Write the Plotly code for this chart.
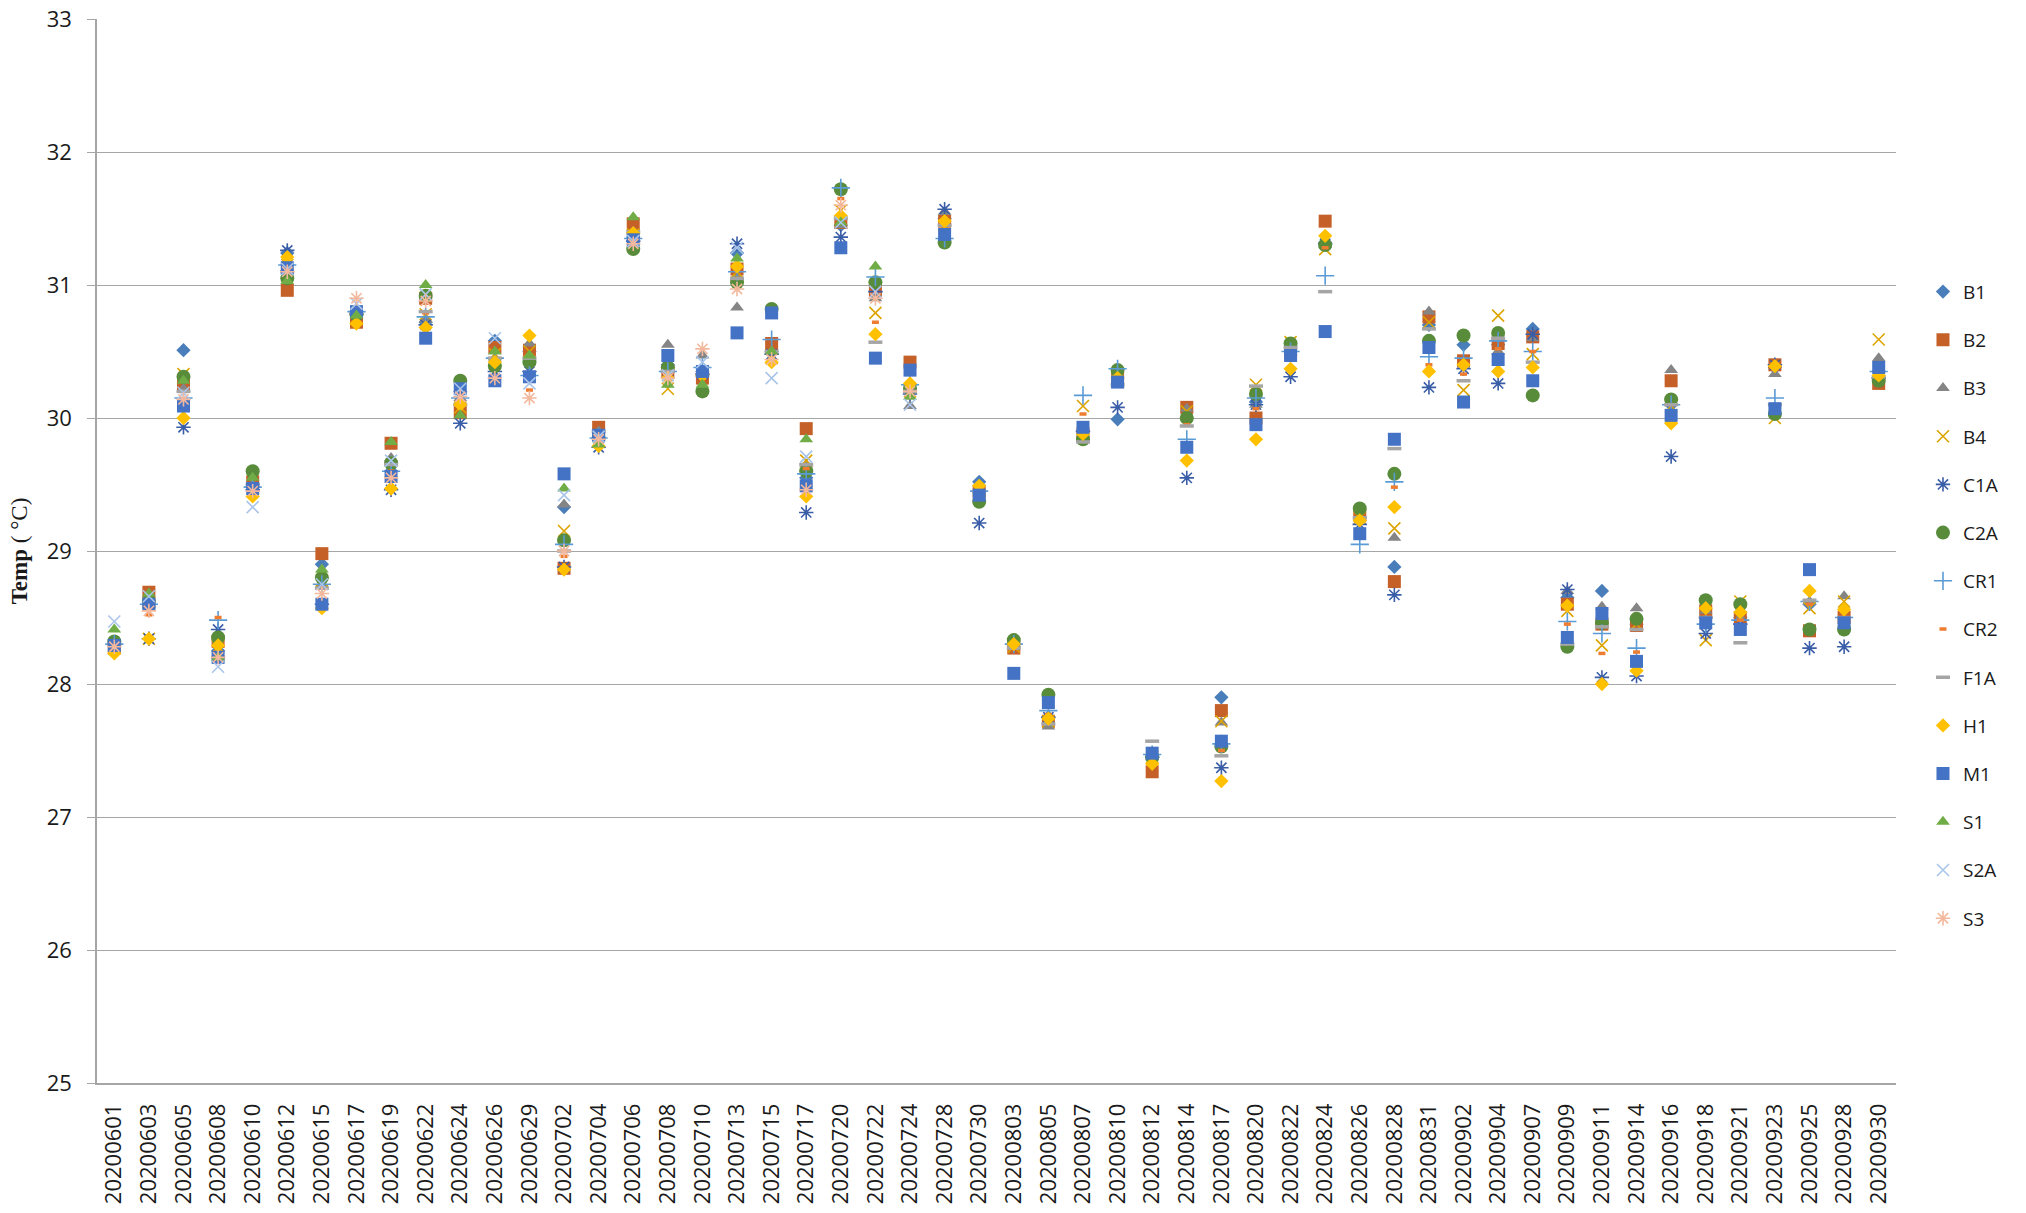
import plotly.graph_objects as go

dates = ["20200601", "20200603", "20200605", "20200608", "20200610", "20200612", "20200615",
         "20200617", "20200619", "20200622", "20200624", "20200626", "20200629", "20200702",
         "20200704", "20200706", "20200708", "20200710", "20200713", "20200715", "20200717",
         "20200720", "20200722", "20200724", "20200728", "20200730", "20200803", "20200805",
         "20200807", "20200810", "20200812", "20200814", "20200817", "20200820", "20200822",
         "20200824", "20200826", "20200828", "20200831", "20200902", "20200904", "20200907",
         "20200909", "20200911", "20200914", "20200916", "20200918", "20200921", "20200923",
         "20200925", "20200928", "20200930"]

N = None
# 52 values per site, one per date (None = no reading)
B1 = [28.30, 28.62, 30.51, 28.25, 29.50, 31.24, 28.90, 30.80, 29.60, 30.72, 30.20, 30.58, 30.50,
      29.33, 29.85, 31.36, 30.40, 30.35, 31.24, 30.50, 29.55, 31.45, 30.95, 30.25, 31.50, 29.52,
      28.30, 27.75, 29.90, 29.99, 27.45, 30.00, 27.90, 30.12, 30.50, 31.32, 29.25, 28.88, 30.70,
      30.55, 30.55, 30.67, 28.65, 28.70, 28.45, 30.10, 28.50, 28.50, 30.38, 28.60, 28.50, 30.35]
B2 = [28.27, 28.69, 30.25, 28.32, 29.52, 30.96, 28.98, 30.72, 29.81, 30.90, 30.04, 30.53, 30.51,
      28.87, 29.93, 31.46, 30.35, 30.30, 31.12, 30.56, 29.92, 31.47, 30.96, 30.42, 31.48, 29.45,
      28.27, 27.72, 29.88, 30.30, 27.34, 30.08, 27.80, 30.00, 30.50, 31.48, 29.27, 28.77, 30.76,
      30.43, 30.56, 30.61, 28.60, 28.45, 28.44, 30.28, 28.55, 28.50, 30.40, 28.40, 28.50, 30.26]
B3 = [28.30, 28.64, 30.22, 28.22, 29.50, 31.10, 28.75, 30.78, 29.70, 30.74, 30.15, 30.45, 30.56,
      29.35, 29.90, 31.40, 30.55, 30.47, 30.83, 30.50, 29.65, 31.45, 30.90, 30.09, 31.55, 29.45,
      28.30, 27.68, 29.85, 30.25, 27.45, 30.07, 27.71, 30.10, 30.50, 31.30, 29.25, 29.10, 30.80,
      30.40, 30.50, 30.60, 28.70, 28.58, 28.57, 30.36, 28.55, 28.50, 30.33, 28.62, 28.66, 30.45]
B4 = [28.28, 28.34, 30.33, 28.28, 29.45, 31.15, 28.78, 30.75, 29.60, 30.78, 30.08, 30.48, 30.50,
      29.15, 29.82, 31.38, 30.22, 30.35, 31.10, 30.45, 29.68, 31.56, 30.79, 30.20, 31.45, 29.45,
      28.28, 27.72, 30.09, 30.28, 27.45, 30.05, 27.72, 30.25, 30.57, 31.27, 29.25, 29.17, 30.72,
      30.21, 30.77, 30.48, 28.55, 28.29, 28.45, 30.09, 28.33, 28.62, 30.00, 28.57, 28.62, 30.59]
C1A = [28.30, 28.34, 29.93, 28.41, 29.46, 31.26, 28.60, 30.78, 29.46, 30.70, 29.96, 30.35, 30.35,
       28.88, 29.78, 31.33, 30.35, 30.33, 31.31, 30.48, 29.29, 31.36, 30.95, 30.18, 31.57, 29.21,
       28.30, 27.75, 29.90, 30.08, 27.45, 29.55, 27.37, 30.10, 30.31, 31.31, 29.20, 28.67, 30.23,
       30.37, 30.26, 30.63, 28.71, 28.05, 28.06, 29.71, 28.38, 28.45, 30.40, 28.27, 28.28, 30.30]
C2A = [28.32, 28.62, 30.31, 28.35, 29.60, 31.05, 28.80, 30.78, 29.66, 30.92, 30.28, 30.39, 30.42,
       29.08, 29.85, 31.27, 30.38, 30.20, 31.02, 30.82, 29.60, 31.72, 31.02, 30.22, 31.32, 29.37,
       28.33, 27.92, 29.84, 30.36, 27.45, 30.00, 27.53, 30.18, 30.56, 31.30, 29.32, 29.58, 30.58,
       30.62, 30.64, 30.17, 28.28, 28.46, 28.49, 30.14, 28.63, 28.60, 30.03, 28.41, 28.41, 30.28]
CR1 = [28.30, 28.60, 30.15, 28.48, 29.48, 31.15, 28.75, 30.80, 29.60, 30.76, 30.15, 30.45, 30.32,
       29.05, 29.85, 31.35, 30.35, 30.38, 31.10, 30.59, 29.58, 31.73, 31.06, 30.25, 31.35, 29.45,
       28.30, 27.80, 30.17, 30.37, 27.47, 29.84, 27.55, 30.15, 30.50, 31.07, 29.05, 29.52, 30.46,
       30.45, 30.58, 30.50, 28.47, 28.38, 28.27, 30.10, 28.45, 28.48, 30.15, 28.62, 28.50, 30.35]
CR2 = [28.28, 28.52, 30.20, 28.50, 29.50, 31.10, 28.72, 30.80, 29.60, 30.79, 30.10, 30.45, 30.21,
       28.96, 29.85, 31.40, 30.32, 30.30, 31.05, 30.50, 29.62, 31.65, 30.72, 30.20, 31.45, 29.45,
       28.27, 27.77, 30.03, 30.30, 27.45, 29.95, 27.50, 30.07, 30.50, 31.28, 29.25, 29.48, 30.40,
       30.33, 30.52, 30.50, 28.45, 28.23, 28.24, 30.10, 28.50, 28.48, 30.10, 28.60, 28.50, 30.30]
F1A = [28.30, 28.58, 30.20, 28.20, 29.50, 31.10, 28.72, 30.78, 29.65, 30.80, 30.10, 30.45, 30.45,
       29.00, 29.90, 31.40, 30.35, 30.32, 31.05, 30.50, 29.65, 31.50, 30.57, 30.20, 31.45, 29.45,
       28.27, 27.70, 29.82, 30.25, 27.57, 29.94, 27.46, 30.24, 30.53, 30.95, 29.25, 29.77, 30.67,
       30.28, 30.60, 30.42, 28.30, 28.43, 28.41, 30.10, 28.50, 28.31, 30.10, 28.63, 28.50, 30.31]
H1 = [28.23, 28.34, 30.00, 28.29, 29.41, 31.21, 28.57, 30.71, 29.47, 30.68, 30.10, 30.42, 30.62,
      28.86, 29.79, 31.39, 30.30, 30.32, 31.14, 30.42, 29.41, 31.52, 30.63, 30.26, 31.48, 29.49,
      28.30, 27.74, 29.88, 30.30, 27.40, 29.68, 27.27, 29.84, 30.37, 31.37, 29.23, 29.33, 30.35,
      30.40, 30.35, 30.38, 28.59, 28.00, 28.10, 29.96, 28.57, 28.54, 30.39, 28.70, 28.56, 30.32]
M1 = [28.29, 28.60, 30.09, 28.20, 29.47, 31.13, 28.60, 30.80, 29.56, 30.60, 30.22, 30.28, 30.31,
      29.58, 29.87, 31.34, 30.47, 30.35, 30.64, 30.79, 29.49, 31.28, 30.45, 30.36, 31.38, 29.42,
      28.08, 27.86, 29.93, 30.27, 27.48, 29.78, 27.57, 29.95, 30.47, 30.65, 29.13, 29.84, 30.53,
      30.12, 30.44, 30.28, 28.35, 28.53, 28.17, 30.02, 28.46, 28.41, 30.07, 28.86, 28.46, 30.38]
S1 = [28.41, 28.68, 30.28, 28.20, 29.55, 31.03, 28.86, 30.77, 29.82, 31.00, 30.02, 30.50, 30.47,
      29.47, 29.80, 31.51, 30.25, 30.25, 31.20, 30.50, 29.84, 31.47, 31.14, 30.16] + [N] * 28
S2A = [28.47, 28.66, 30.19, 28.13, 29.33, 31.12, 28.75, 30.86, 29.68, 30.93, 30.22, 30.60, 30.26,
       29.42, 29.86, 31.33, 30.32, 30.42, 31.28, 30.30, 29.71, 31.47, 30.95, 30.10] + [N] * 28
S3 = [28.28, 28.55, 30.14, 28.20, 29.45, 31.10, 28.68, 30.90, 29.55, 30.88, 30.16, 30.30, 30.15,
      29.00, 29.84, 31.31, 30.30, 30.52, 30.97, 30.44, 29.46, 31.60, 30.90, 30.20] + [N] * 28

# name, values, symbol, colour, size, line width
series = [
    ("B1", B1, "diamond", "#4A7EBB", 11, 0),
    ("B2", B2, "square", "#C56028", 13, 0),
    ("B3", B3, "triangle-up", "#858585", 12, 0),
    ("B4", B4, "x-thin-open", "#DDA400", 12, 1.6),
    ("C1A", C1A, "asterisk-open", "#3A5DA8", 12, 1.6),
    ("C2A", C2A, "circle", "#588C3A", 14, 0),
    ("CR1", CR1, "cross-thin-open", "#5B9BD5", 13, 1.6),
    ("CR2", CR2, "line-ew-open", "#ED7D31", 5, 3.5),
    ("F1A", F1A, "line-ew-open", "#A5A5A5", 10, 3.5),
    ("H1", H1, "diamond", "#FFC000", 11, 0),
    ("M1", M1, "square", "#4472C4", 13, 0),
    ("S1", S1, "triangle-up", "#70AD47", 12, 0),
    ("S2A", S2A, "x-thin-open", "#A9C5EA", 12, 1.6),
    ("S3", S3, "asterisk-open", "#F4B89C", 12, 1.6),
]

fig = go.Figure()
for name, vals, sym, col, sz, lw in series:
    fig.add_trace(go.Scatter(x=dates, y=vals, mode="markers", name=name, legendgroup=name,
                             marker=dict(symbol=sym, color=col, size=sz,
                                         line=dict(width=lw, color=col))))

grid = "#A6A6A6"
txt = "#1A1A1A"
fig.update_layout(
    width=2026, height=1213,
    margin=dict(l=97, r=130, t=19, b=130),
    paper_bgcolor="white", plot_bgcolor="white",
    font=dict(family="Open Sans", size=22, color=txt),
    legend=dict(x=1.015, y=0.449, xanchor="left", yanchor="middle",
                font=dict(family="Open Sans", size=19, color=txt),
                tracegroupgap=20.5, bgcolor="rgba(0,0,0,0)"),
    showlegend=True,
)
fig.update_xaxes(type="category", range=[-0.5, 51.5], tickangle=-90, automargin=False,
                 showgrid=False, showline=True, linecolor=grid, linewidth=1.5,
                 ticks="", ticklabelstandoff=10,
                 tickfont=dict(family="Open Sans", size=22, color=txt))
fig.update_yaxes(range=[25, 33], dtick=1, showgrid=True, gridcolor=grid, gridwidth=1.3,
                 showline=True, linecolor=grid, linewidth=1.5, zeroline=False, automargin=False,
                 ticks="outside", ticklen=8, tickcolor=grid, tickwidth=1.3,
                 ticklabelstandoff=11,
                 tickfont=dict(family="Open Sans", size=22, color=txt),
                 title=dict(text="<b>Temp</b> ( °C)", standoff=13,
                            font=dict(family="Liberation Serif", size=23, color=txt)))

# drop the page's default body margin so the figure sits at the window corner
fig.write_html("out.html", config={"displayModeBar": False},
               post_script="document.body.style.margin = '0px';")
